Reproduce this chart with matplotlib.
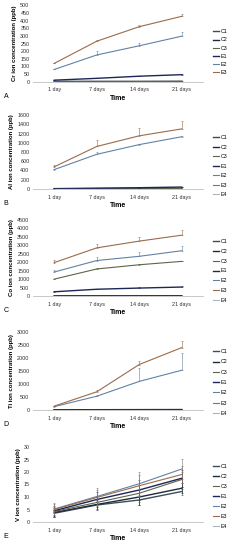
import matplotlib
matplotlib.use("Agg")
import matplotlib.pyplot as plt
import numpy as np

plt.rcParams['font.family'] = ['Liberation Sans', 'DejaVu Sans']

days = ["1 day", "7 days", "14 days", "21 days"]

# colours of the series, as in the legend
colors = {"C1": "#3c4e58", "C2": "#1f2b3d", "C3": "#5e6449", "E1": "#1c2757",
          "E2": "#6382a3", "E3": "#9c6a4a", "E4": "#a9b5c0"}

# A - Cr
cr_names = ["C1", "C2", "C3", "E1", "E2", "E3"]
cr_vals = [[1, 1, 1, 2], [3, 3, 3, 3], [2, 2, 2, 2], [10, 22, 36, 46],
           [80, 175, 235, 298], [120, 265, 360, 428]]
cr_err = [[0, 0, 0, 0], [0, 0, 0, 0], [0, 0, 0, 0], [1, 2, 2, 2],
          [5, 25, 20, 25], [5, 5, 8, 12]]

# B - Al
al_names = ["C1", "C2", "C3", "E1", "E2", "E3", "E4"]
al_vals = [[2, 3, 4, 5], [5, 8, 10, 12], [3, 5, 6, 8], [8, 18, 28, 42],
           [420, 750, 960, 1130], [480, 920, 1150, 1300], [0, 0, 0, 0]]
al_err = [[0, 0, 0, 0], [0, 0, 0, 0], [0, 0, 0, 0], [2, 3, 3, 5],
          [20, 50, 20, 20], [30, 150, 160, 170], [0, 0, 0, 0]]

# C - Co
co_names = ["C1", "C2", "C3", "E1", "E2", "E3", "E4"]
co_vals = [[10, 12, 14, 15], [5, 6, 7, 8], [1000, 1600, 1850, 2050], [250, 400, 470, 530],
           [1420, 2100, 2350, 2680], [1980, 2850, 3250, 3600], [0, 0, 0, 0]]
co_err = [[0, 0, 0, 0], [0, 0, 0, 0], [20, 30, 30, 30], [20, 30, 40, 40],
          [100, 200, 250, 300], [150, 200, 250, 300], [0, 0, 0, 0]]

# D - Ti
ti_names = ["C1", "C2", "C3", "E1", "E2", "E3", "E4"]
ti_vals = [[5, 6, 7, 8], [3, 4, 5, 6], [8, 10, 12, 14], [10, 12, 15, 18],
           [130, 530, 1100, 1530], [150, 700, 1750, 2400], [15, 15, 15, 15]]
ti_err = [[0, 0, 0, 0], [0, 0, 0, 0], [0, 0, 0, 0], [0, 0, 0, 0],
          [10, 30, 500, 680], [20, 60, 120, 250], [0, 0, 0, 0]]

# E - V
v_names = ["C1", "C2", "C3", "E1", "E2", "E3", "E4"]
v_vals = [[3.5, 6.8, 8.8, 12.2], [3.8, 7.0, 10.0, 13.5], [4.2, 7.8, 11.5, 17.0],
          [4.5, 9.0, 12.8, 17.5], [5.2, 10.2, 15.3, 21.2], [5.0, 9.8, 14.5, 19.0],
          [0, 0, 0, 0]]
v_err = [[1.5, 1.5, 2.0, 1.2], [1.8, 2.0, 3.0, 2.0], [2.0, 2.5, 3.5, 3.0],
         [2.0, 3.0, 4.0, 3.5], [2.5, 3.5, 4.7, 4.0], [2.2, 3.2, 4.5, 3.5],
         [0, 0, 0, 0]]

panels = [
    ("A", "Cr ion concentration (ppb)", cr_names, cr_vals, cr_err, 500, 50, False, 5.3, 81.7, 32, 0.6),
    ("B", "Al ion concentration (ppb)", al_names, al_vals, al_err, 1600, 200, False, 115, 189, 138, 0.85),
    ("C", "Co ion concentration (ppb)", co_names, co_vals, co_err, 4500, 500, False, 220, 296, 242, 0.9),
    ("D", "Ti ion concentration (ppb)", ti_names, ti_vals, ti_err, 3000, 500, False, 332, 410, 352, 1.0),
    ("E", "V ion concentration (ppb)", v_names, v_vals, v_err, 30, 5, True, 447, 522, 467, 0.95),
]

W, H = 240, 550
fig = plt.figure(figsize=(2.4, 5.5), dpi=100)
x = np.arange(len(days))

for letter, ylab, names, vals, errs, ymax, ystep, both, top, bot, leg_y, lsp in panels:
    ax = fig.add_axes([33 / W, 1 - bot / H, 170 / W, (bot - top) / H])
    for name, v, e in zip(names, vals, errs):
        c = colors[name]
        lw = 1.0 if name in ("C1", "C2", "E1") else 0.8
        ax.plot(x, v, color=c, lw=lw, label=name)
        e = np.array(e, dtype=float)
        if e.any():
            lower = e if both else np.zeros_like(e)
            ax.errorbar(x, v, yerr=[lower, e], fmt="none", ecolor=c,
                        elinewidth=0.4, capsize=1.0, capthick=0.4)
    ax.set_xlim(-0.5, 3.5)
    ax.set_ylim(0, ymax)
    ax.set_yticks(np.arange(0, ymax + ystep / 2, ystep))
    ax.set_xticks(x)
    ax.set_xticklabels(days)
    ax.tick_params(axis="both", length=0, labelsize=3.9, colors="#303030", pad=2.5)
    ax.tick_params(axis="x", pad=4)
    for s in ("top", "right", "left"):
        ax.spines[s].set_visible(False)
    ax.spines["bottom"].set_color("#bfbfbf")
    ax.spines["bottom"].set_linewidth(0.6)
    ax.set_xlabel("Time", fontsize=5, fontweight="bold", labelpad=2)
    ax.set_ylabel(ylab, fontsize=4.3, fontweight="bold", labelpad=2)
    ax.legend(loc="upper left", bbox_to_anchor=(213 / W, 1 - (leg_y - 2.8) / H),
              bbox_transform=fig.transFigure, frameon=False, fontsize=3.8,
              handlelength=1.1, handletextpad=0.3, labelspacing=lsp,
              borderpad=0, borderaxespad=0)
    fig.text(6 / W, 1 - (bot + 15) / H, letter, fontsize=5, va="center", ha="center")

fig.savefig("out.png", dpi=100)
